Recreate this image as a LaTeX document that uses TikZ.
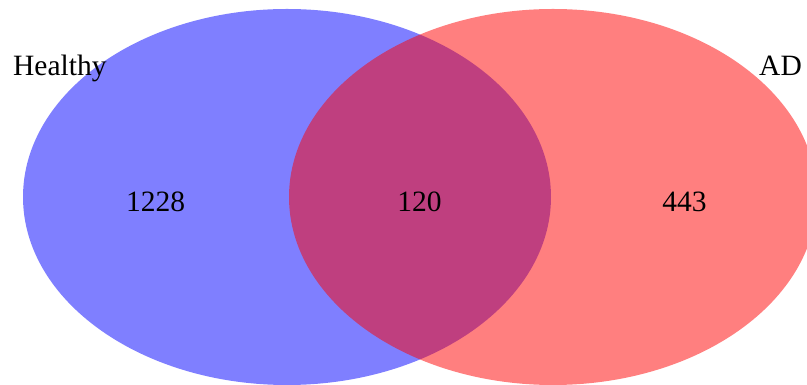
\documentclass[tikz,border=0pt]{standalone}
\usepackage{fontspec}
\setmainfont{Liberation Serif}
\usetikzlibrary{positioning}
\definecolor{healthy}{HTML}{0000FF}
\definecolor{ad}{HTML}{FF0000}
\newcommand{\vennfont}{\fontsize{29.5}{35}\selectfont}

\begin{document}
\begin{tikzpicture}[x=1pt, y=1pt,
        setarea/.style={fill opacity=0.5, draw=none},
        countlabel/.style={font=\vennfont, anchor=base, inner sep=0pt},
        setname/.style={font=\vennfont, anchor=base west, inner sep=0pt},
      ]
      \useasboundingbox (0,0) rectangle (807,385);
      \clip (0,0) rectangle (807,385);

      % the two sets
      \fill[setarea, fill=healthy] (287,188) ellipse [x radius=264, y radius=188];
      \fill[setarea, fill=ad] (553,188) ellipse [x radius=264, y radius=188];

      % set names
      \node[setname] (healthyname) at (13,309) {Healthy};
      \node[setname] (adname) at (759,309) {AD};

      % counts
      \node[countlabel] (onlyhealthy) at (155.5,173) {1228};
      \node[countlabel] (both) at (419.5,173) {120};
      \node[countlabel] (onlyad) at (684.5,173) {443};
    \end{tikzpicture}
\end{document}
